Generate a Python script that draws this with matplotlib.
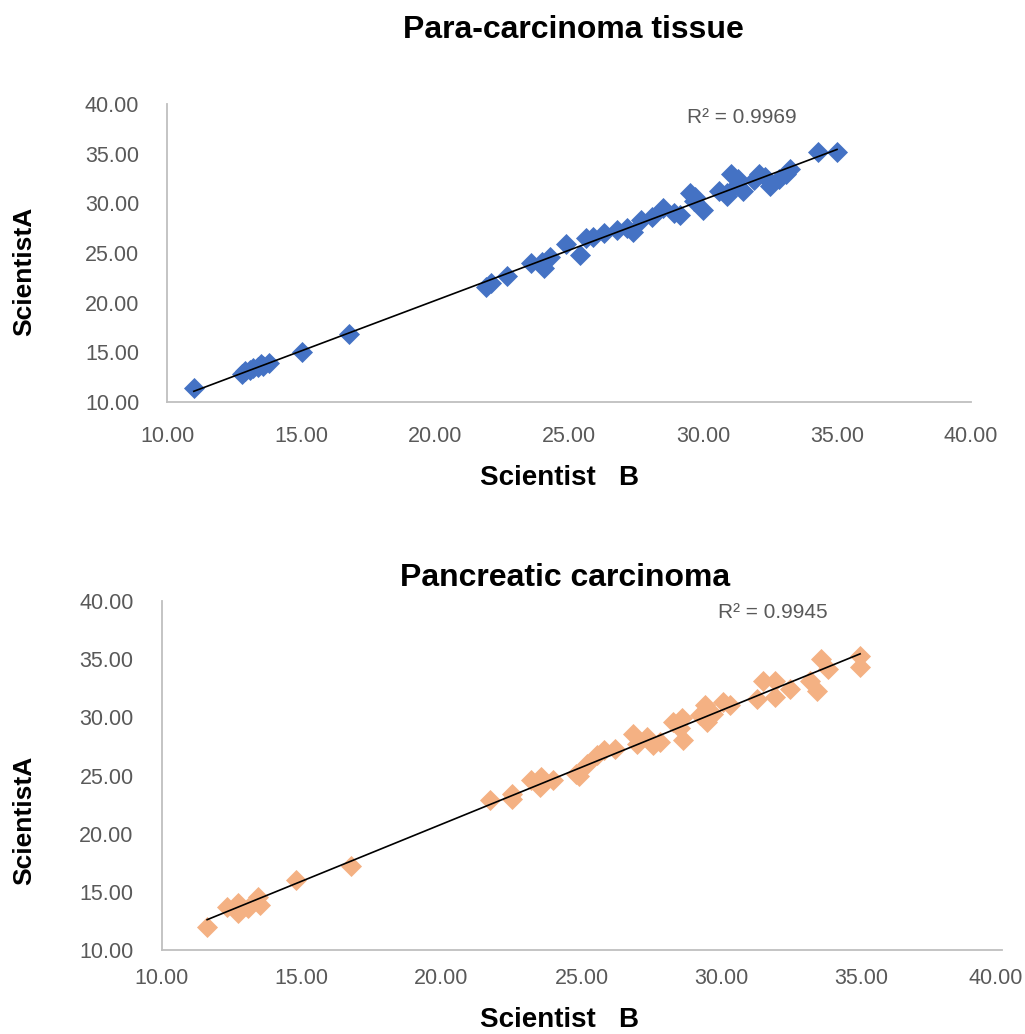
import numpy as np
import matplotlib
matplotlib.use("Agg")
import matplotlib.pyplot as plt
from matplotlib.transforms import ScaledTranslation

# ---- Data: Para-carcinoma tissue ----
para_b = [11.0, 12.8, 12.9, 13.1, 13.2, 13.4, 13.5, 13.6, 13.8, 15.05, 16.8,
          21.9, 22.1, 22.7, 23.6, 24.0, 24.05, 24.3, 24.9, 25.4, 25.65, 25.9,
          26.3, 26.8, 27.15, 27.4, 27.7, 28.1, 28.5, 28.9, 29.15, 29.5, 29.65,
          29.7, 30.0, 30.6, 30.9, 30.9, 31.05, 31.25, 31.3, 31.5, 31.9, 32.1,
          32.3, 32.5, 32.85, 33.1, 33.25, 34.3, 35.0]
para_a = [11.4, 12.8, 13.1, 13.2, 13.4, 13.5, 13.8, 13.6, 13.9, 15.0, 16.85,
          21.6, 21.95, 22.7, 23.97, 24.1, 23.5, 24.6, 25.95, 24.8, 26.5, 26.6,
          27.0, 27.3, 27.5, 27.15, 28.3, 28.65, 29.5, 29.0, 28.85, 31.0, 30.2,
          30.6, 29.35, 31.2, 30.7, 31.0, 33.0, 31.85, 32.5, 31.2, 32.35, 33.0,
          32.7, 31.7, 32.5, 33.0, 33.5, 35.2, 35.2]

# ---- Data: Pancreatic carcinoma ----
panc_b = [11.63, 12.33, 12.74, 12.74, 13.1, 13.46, 13.52, 14.82, 16.78,
          21.73, 22.5, 22.5, 23.2, 23.56, 23.5, 23.98, 24.81, 24.9, 25.19,
          25.55, 25.79, 26.2, 26.85, 26.97, 27.33, 27.57, 27.8, 28.28, 28.58,
          28.51, 28.63, 29.23, 29.41, 29.47, 29.7, 30.06, 30.3, 31.25, 31.49,
          31.9, 31.9, 32.45, 33.16, 33.4, 33.57, 33.8, 34.95, 34.95]
panc_a = [12.0, 13.7, 13.15, 14.0, 13.58, 14.58, 13.87, 15.99, 17.22,
          22.9, 23.4, 22.95, 24.6, 24.88, 24.02, 24.65, 25.16, 25.0, 26.02,
          26.73, 27.17, 27.3, 28.6, 27.74, 28.3, 27.6, 27.88, 29.6, 29.9,
          29.05, 28.04, 30.17, 31.03, 29.6, 30.32, 31.32, 31.03, 31.6, 33.16,
          31.75, 33.16, 32.44, 33.16, 32.3, 35.02, 34.16, 35.3, 34.35]

titles = ["Para-carcinoma tissue", "Pancreatic carcinoma"]
r2_labels = ["R\u00b2 = 0.9969", "R\u00b2 = 0.9945"]
tick_vals = [10, 15, 20, 25, 30, 35, 40]

fig = plt.figure(figsize=(10.25, 10.34), dpi=100)

W, H = 1025.0, 1034.0
def rect(l, t, r, b):
    return [l / W, 1 - b / H, (r - l) / W, (b - t) / H]

axes_specs = [
    dict(rect=rect(167, 104, 971, 402), x=para_b, y=para_a, color="#4472C4",
         title_xy=(573, 30), r2_xy=(0.715, 0.956), ylab_y=271, xlab_y=478, xpad=17),
    dict(rect=rect(161.5, 601, 1001.5, 950), x=panc_b, y=panc_a, color="#F4B183",
         title_xy=(565, 578), r2_xy=(0.728, 0.966), ylab_y=820, xlab_y=1020, xpad=13),
]

for i, spec in enumerate(axes_specs):
    ax = fig.add_axes(spec["rect"])
    x = np.array(spec["x"]); y = np.array(spec["y"])
    ax.scatter(x, y, marker="D", s=115, color=spec["color"], linewidths=0, zorder=2)
    k, b0 = np.polyfit(x, y, 1)
    xs = np.array([x.min(), x.max()])
    ax.plot(xs, k * xs + b0, color="black", lw=1.2, zorder=3)
    ax.set_xlim(10, 40); ax.set_ylim(10, 40)
    ax.set_xticks(tick_vals); ax.set_yticks(tick_vals)
    ax.set_xticklabels([f"{v:.2f}" for v in tick_vals], family="Liberation Sans")
    ax.set_yticklabels([f"{v:.2f}" for v in tick_vals], family="Liberation Sans")
    ax.tick_params(length=0, labelsize=15.5, colors="#595959")
    ax.tick_params(axis="y", pad=20)
    ax.tick_params(axis="x", pad=spec["xpad"])
    if i == 1:
        lab = ax.get_xticklabels()[-1]
        lab.set_transform(lab.get_transform() + ScaledTranslation(-6 / 100, 0, fig.dpi_scale_trans))
    for s in ["top", "right"]:
        ax.spines[s].set_visible(False)
    for s in ["left", "bottom"]:
        ax.spines[s].set_color("#BFBFBF")
        ax.spines[s].set_linewidth(1.3)
    ax.text(spec["r2_xy"][0], spec["r2_xy"][1], r2_labels[i], transform=ax.transAxes,
            ha="center", va="center", fontsize=15, color="#595959", family="Liberation Sans")
    fig.text(spec["title_xy"][0] / W, 1 - spec["title_xy"][1] / H, titles[i],
             ha="center", va="center", fontsize=23, fontweight="bold", family="Liberation Sans")
    fig.text(24 / W, 1 - spec["ylab_y"] / H, "ScientistA", rotation=90,
             ha="center", va="center", fontsize=19, fontweight="bold", family="Liberation Sans")
    fig.text(560 / W, 1 - spec["xlab_y"] / H, "Scientist   B",
             ha="center", va="center", fontsize=20, fontweight="bold", family="Liberation Sans")

fig.savefig("out.png", dpi=100, facecolor="white")
